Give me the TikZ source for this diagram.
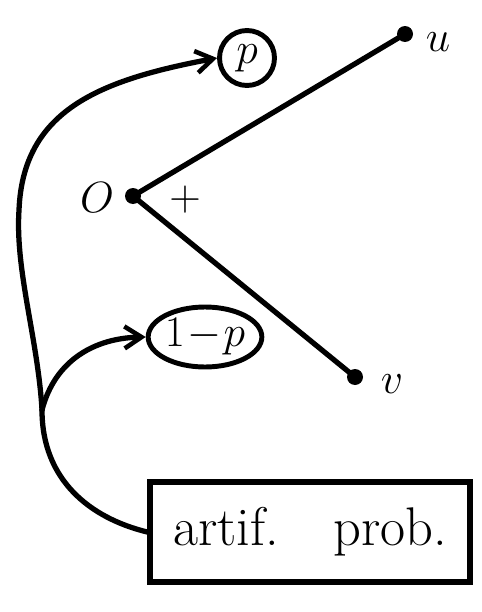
\documentclass[tikz,border=0pt]{standalone}
\usepackage{tikz}
\usetikzlibrary{arrows.meta,shapes.geometric}
\tikzset{
  ln/.style={line width=3pt, line cap=round},
  ar/.style={ln, -{Straight Barb[length=3.4mm, width=4.4mm, line width=2.6pt]}},
  dot/.style={circle, fill=black, inner sep=0pt, minimum size=3.2mm},
  lbl/.style={font=\fontsize{34}{36}\selectfont, inner sep=0pt},
  circ/.style={draw, line width=2.8pt, inner sep=0pt, font=\fontsize{30}{32}\selectfont},
  boxx/.style={draw, line width=3.2pt, minimum width=6.4cm, minimum height=2cm, font=\fontsize{31}{33}\selectfont},
}
\begin{document}
\begin{tikzpicture}[x=0.02cm, y=-0.02cm]
  \useasboundingbox (0,0) rectangle (481,612);
  % points of the angle
  \node[dot] (o) at (133,196) {};
  \node[dot] (u) at (405,34) {};
  \node[dot] (v) at (355,377) {};
  \node[lbl] (ol) at (97,198) {$O$};
  \node[lbl] (ul) at (438,42) {$u$};
  \node[lbl] (vl) at (392,384) {$v$};
  \node[lbl] (plus) at (185,200) {$+$};
  \draw[ln] (u.center) -- (o.center) -- (v.center);
  % probabilities
  \node[circ, circle, minimum size=1.1cm] (p) at (247,58) {$p$};
  \node[circ, ellipse, minimum width=2.1cm, minimum height=1.2cm] (q) at (205,337) {$1\!-\!p$};
  \node[boxx] (artif) at (310,532) {artif.\quad prob.};
  % branches
  \coordinate (j) at (42,410);
  \draw[ln] (artif.west) .. controls (90,518) and (42,480) .. (j);
  \draw[ar] (j) .. controls (38,340) and (15,270) .. (19,210)
    .. controls (23,110) and (100,80) .. (p.west);
  \draw[ar] (j) .. controls (55,360) and (95,338) .. (q.west);
\end{tikzpicture}
\end{document}
